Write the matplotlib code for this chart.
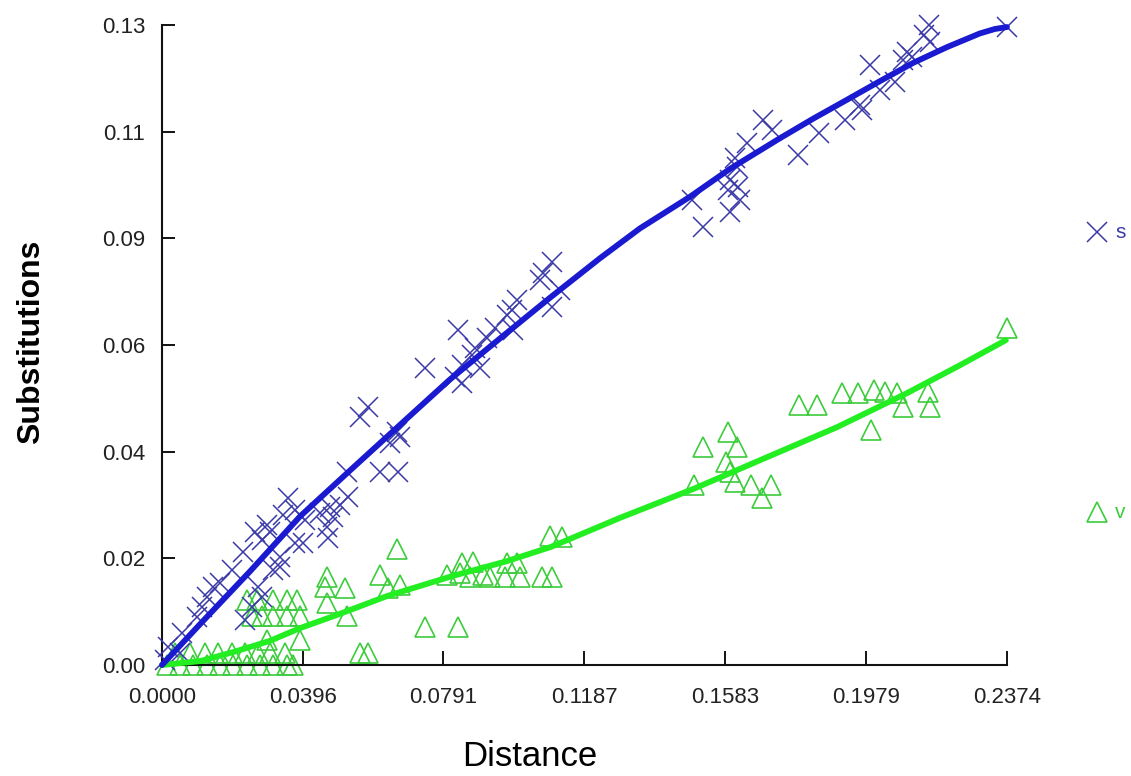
import matplotlib.pyplot as plt

plt.rcParams['font.family'] = ['Liberation Sans', 'DejaVu Sans']

# transitions (s)
s_dist = [0.2374, 0.2154, 0.2140, 0.2157, 0.2093, 0.2081, 0.2107, 0.1989, 0.2059, 0.2017,
          0.1961, 0.1966, 0.1919, 0.1845, 0.1787, 0.1688, 0.1713, 0.1643, 0.1610, 0.1615,
          0.1596, 0.1618, 0.1590, 0.1624, 0.1596, 0.1489, 0.1520,
          0.1096, 0.1070, 0.1062, 0.1118, 0.1096, 0.0997, 0.0983, 0.0969, 0.0986, 0.0935,
          0.0913, 0.0831, 0.0879, 0.0871, 0.0893, 0.0843, 0.0823, 0.0843, 0.0739,
          0.0579, 0.0556, 0.0660, 0.0640, 0.0669, 0.0612, 0.0663, 0.0520, 0.0522, 0.0500,
          0.0472, 0.0480, 0.0463, 0.0444, 0.0466, 0.0402, 0.0396,
          0.0354, 0.0374, 0.0340, 0.0295, 0.0303, 0.0261, 0.0281, 0.0374, 0.0331, 0.0331,
          0.0312, 0.0228, 0.0197, 0.0163, 0.0143, 0.0126, 0.0112, 0.0098, 0.0270, 0.0281,
          0.0253, 0.0233, 0.0056, 0.0051, 0.0017, 0.0008]
s_subs = [0.1296, 0.1300, 0.1280, 0.1266, 0.1245, 0.1229, 0.1235, 0.1219, 0.1184, 0.1168,
          0.1138, 0.1127, 0.1107, 0.1081, 0.1036, 0.1107, 0.1087, 0.1060, 0.1030, 0.1012,
          0.0985, 0.0971, 0.0965, 0.0945, 0.0920, 0.0945, 0.0890,
          0.0819, 0.0796, 0.0782, 0.0762, 0.0727, 0.0741, 0.0721, 0.0711, 0.0680, 0.0685,
          0.0664, 0.0680, 0.0644, 0.0630, 0.0603, 0.0609, 0.0585, 0.0573, 0.0603,
          0.0524, 0.0504, 0.0473, 0.0451, 0.0463, 0.0392, 0.0392, 0.0392, 0.0341, 0.0325,
          0.0321, 0.0301, 0.0280, 0.0309, 0.0258, 0.0295, 0.0248,
          0.0339, 0.0315, 0.0305, 0.0284, 0.0270, 0.0270, 0.0254, 0.0248, 0.0219, 0.0199,
          0.0193, 0.0230, 0.0193, 0.0167, 0.0158, 0.0138, 0.0118, 0.0098, 0.0158, 0.0138,
          0.0118, 0.0091, 0.0065, 0.0024, 0.0037, 0.0010]

# transversions (v)
v_dist = [0.0014, 0.0051, 0.0087, 0.0126, 0.0163, 0.0199, 0.0239, 0.0275, 0.0312, 0.0351, 0.0368,
          0.0037, 0.0079, 0.0121, 0.0157, 0.0197, 0.0233, 0.0270, 0.0303, 0.0346,
          0.0295, 0.0388,
          0.0239, 0.0267, 0.0312, 0.0351, 0.0379,
          0.0253, 0.0281, 0.0312, 0.0351, 0.0388,
          0.0463, 0.0458, 0.0514, 0.0463, 0.0520,
          0.0612, 0.0635, 0.0669, 0.0660,
          0.0739, 0.0831, 0.0556, 0.0579,
          0.0843, 0.0874, 0.0837, 0.0865, 0.0902, 0.0921, 0.0969, 0.0997, 0.0963, 0.1006,
          0.1067, 0.1096, 0.0801, 0.1090, 0.1124,
          0.1494, 0.1520, 0.1590, 0.1615, 0.1584, 0.1596, 0.1610, 0.1655, 0.1711, 0.1685,
          0.1789, 0.1840, 0.1910, 0.1955, 0.2000, 0.2031, 0.2065, 0.2152, 0.2081, 0.2157,
          0.1992, 0.2374]
v_subs = [0.0, 0.0, 0.0, 0.0, 0.0, 0.0, 0.0, 0.0, 0.0, 0.0, 0.0,
          0.0024, 0.0024, 0.0024, 0.0024, 0.0024, 0.0024, 0.0024, 0.0024, 0.0024,
          0.0051, 0.0051,
          0.0132, 0.0132, 0.0132, 0.0132, 0.0132,
          0.0100, 0.0100, 0.0100, 0.0100, 0.0100,
          0.0179, 0.0158, 0.0156, 0.0126, 0.0100,
          0.0183, 0.0156, 0.0162, 0.0236,
          0.0077, 0.0077, 0.0024, 0.0024,
          0.0207, 0.0209, 0.0187, 0.0179, 0.0183, 0.0179, 0.0207, 0.0207, 0.0179, 0.0179,
          0.0179, 0.0179, 0.0183, 0.0262, 0.0260,
          0.0366, 0.0443, 0.0473, 0.0443, 0.0412, 0.0392, 0.0372, 0.0366, 0.0366, 0.0339,
          0.0528, 0.0528, 0.0552, 0.0552, 0.0559, 0.0555, 0.0552, 0.0555, 0.0524, 0.0524,
          0.0477, 0.0684]

# smoothed curves
s_fit_x = [0.0, 0.0107, 0.0247, 0.0388, 0.0528, 0.0669, 0.0809, 0.0949, 0.1090, 0.1230,
           0.1343, 0.1483, 0.1596, 0.1736, 0.1830, 0.1924, 0.2017, 0.2110, 0.2205, 0.2298,
           0.2340, 0.2374]
s_fit_y = [0.0, 0.0083, 0.0190, 0.0302, 0.0395, 0.0488, 0.0580, 0.0663, 0.0746, 0.0826,
           0.0887, 0.0951, 0.1008, 0.1070, 0.1110, 0.1148, 0.1186, 0.1223, 0.1255, 0.1283,
           0.1292, 0.1296]
v_fit_x = [0.0, 0.0107, 0.0199, 0.0303, 0.0388, 0.0500, 0.0632, 0.0817, 0.0969, 0.1093,
           0.1287, 0.1494, 0.1680, 0.1896, 0.2095, 0.2242, 0.2371]
v_fit_y = [0.0, 0.0008, 0.0026, 0.0049, 0.0075, 0.0104, 0.0140, 0.0181, 0.0211, 0.0240,
           0.0299, 0.0358, 0.0416, 0.0483, 0.0553, 0.0609, 0.0660]

x_ticks = [0.0, 0.0396, 0.0791, 0.1187, 0.1583, 0.1979, 0.2374]
y_ticks = [0.0, 0.0217, 0.0433, 0.065, 0.0867, 0.1083, 0.13]
y_labels = ['0.00', '0.02', '0.04', '0.06', '0.09', '0.11', '0.13']

blue = '#1a1ad0'
blue_mk = '#3a3aa8'
green = '#22ee22'
green_mk = '#3ccc3c'

fig = plt.figure(figsize=(11.31, 7.76), dpi=100)
ax = fig.add_axes([0.1432, 0.143, 0.7471, 0.8247])

ax.plot(v_dist, v_subs, linestyle='none', marker='^', ms=15, mfc='none',
        mec=green_mk, mew=1.2, clip_on=False, zorder=2)
ax.plot(s_dist, s_subs, linestyle='none', marker='x', ms=15,
        mec=blue_mk, mew=1.1, clip_on=False, zorder=3)
ax.plot(v_fit_x, v_fit_y, color=green, lw=4.2, solid_joinstyle='round',
        solid_capstyle='round', clip_on=False, zorder=4)
ax.plot(s_fit_x, s_fit_y, color=blue, lw=4.2, solid_joinstyle='round',
        solid_capstyle='round', clip_on=False, zorder=5)

ax.set_xlim(0, 0.2374)
ax.set_ylim(0, 0.13)
ax.set_xticks(x_ticks)
ax.set_xticklabels(['%.4f' % t for t in x_ticks])
ax.set_yticks(y_ticks)
ax.set_yticklabels(y_labels)

for side in ['top', 'right']:
    ax.spines[side].set_visible(False)
for side in ['left', 'bottom']:
    ax.spines[side].set_linewidth(1.5)
    ax.spines[side].set_color('#111111')

ax.tick_params(axis='x', direction='in', length=10, width=1.3, pad=16,
               labelsize=16, labelcolor='#222222')
ax.tick_params(axis='y', direction='in', length=9.5, width=1.3, pad=12,
               labelsize=16, labelcolor='#222222')

fig.text(530 / 1131, 1 - 757 / 776, 'Distance', fontsize=25,
         ha='center', va='center')
fig.text(0.027, 0.56, 'Substitutions', rotation=90, fontsize=23,
         fontweight='bold', ha='center', va='center')

# legend at the right side
ax.plot([1.1065], [0.6766], marker='x', ms=15, mec=blue_mk, mew=1.1,
        linestyle='none', transform=ax.transAxes, clip_on=False)
ax.text(1.128, 0.6766, 's', color=blue_mk, fontsize=15, va='center',
        transform=ax.transAxes)
ax.plot([1.1065], [0.239], marker='^', ms=15, mfc='none', mec=green_mk, mew=1.2,
        linestyle='none', transform=ax.transAxes, clip_on=False)
ax.text(1.128, 0.239, 'v', color=green_mk, fontsize=15, va='center',
        transform=ax.transAxes)

fig.savefig('out.png', dpi=100)
